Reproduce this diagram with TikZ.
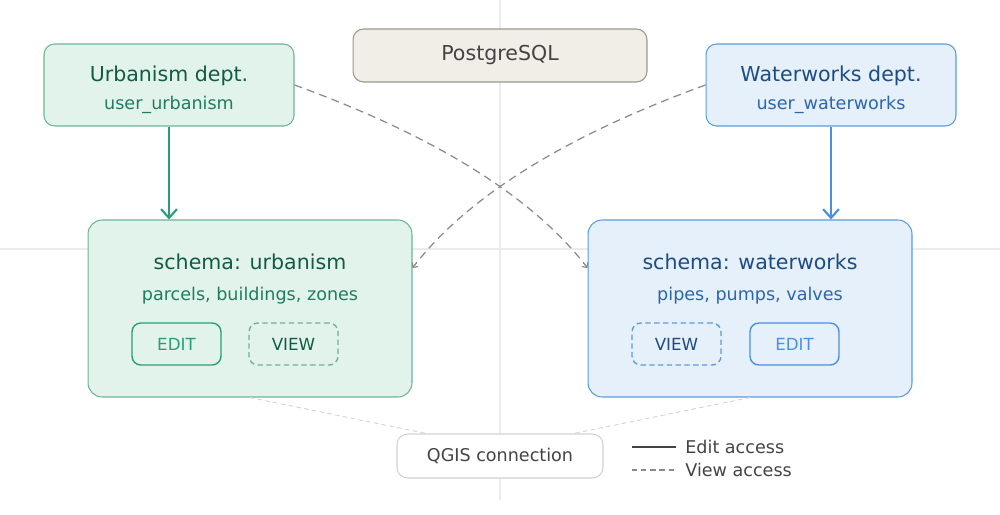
\documentclass[tikz,border=0pt]{standalone}
\usepackage{fontspec}
\setmainfont{DejaVu Sans}
\usetikzlibrary{arrows.meta}
\definecolor{urbFill}{HTML}{E2F3EC}
\definecolor{urbLine}{HTML}{6DB496}
\definecolor{urbDark}{HTML}{115C45}
\definecolor{urbMid}{HTML}{1E7D61}
\definecolor{urbAccent}{HTML}{2A9D78}
\definecolor{watFill}{HTML}{E5F0FB}
\definecolor{watLine}{HTML}{5B9BDE}
\definecolor{watDark}{HTML}{1C4C84}
\definecolor{watMid}{HTML}{2B66AD}
\definecolor{watAccent}{HTML}{4A90E2}
\definecolor{pgFill}{HTML}{F1EEE8}
\definecolor{pgLine}{HTML}{9C978F}
\definecolor{inkGray}{HTML}{444444}
\definecolor{viewGray}{HTML}{8A8A8A}
\definecolor{guideGray}{HTML}{EBEBEB}
\definecolor{qgisLine}{HTML}{D2D2D2}

\begin{document}
\begin{tikzpicture}[x=0.02cm,y=-0.02cm,>={Straight Barb[length=5pt,width=9pt]}]
\tikzstyle{deptbox}=[draw,rounded corners=6pt,minimum width=5cm,minimum height=1.64cm,line width=.6pt]
\tikzstyle{schemabox}=[draw,rounded corners=8pt,minimum width=6.48cm,minimum height=3.54cm,line width=.6pt]
\tikzstyle{btn}=[draw,rounded corners=5pt,minimum width=1.78cm,minimum height=.84cm,line width=.8pt,font=\fontsize{9.5}{11}\selectfont]
\tikzstyle{bigtxt}=[font=\fontsize{11.7}{14}\selectfont,inner sep=0pt]
\tikzstyle{smalltxt}=[font=\fontsize{10}{12}\selectfont,inner sep=0pt]
\tikzstyle{viewline}=[draw=viewGray,line width=.7pt,dash pattern=on 4.5pt off 3pt]
\tikzstyle{qgisline}=[draw=qgisLine,line width=.5pt,dash pattern=on 2.5pt off 2pt]
\useasboundingbox (0,0) rectangle (1000,514);
% guides
\draw[guideGray,line width=.6pt] (500,0) -- (500,500);
\draw[guideGray,line width=.6pt] (0,249) -- (1000,249);
% top row
\node[deptbox,draw=urbLine,fill=urbFill] (udept) at (169,85) {};
\node[bigtxt,text=urbDark] (udeptname) at (169,76) {Urbanism dept.};
\node[smalltxt,text=urbMid] (udeptuser) at (169,104.5) {user\_urbanism};
\node[draw=pgLine,fill=pgFill,rounded corners=6pt,minimum width=5.88cm,minimum height=1.06cm,line width=.6pt,bigtxt,text=inkGray] (pg) at (500,55.5) {PostgreSQL};
\node[deptbox,draw=watLine,fill=watFill] (wdept) at (831,85) {};
\node[bigtxt,text=watDark] (wdeptname) at (831,76) {Waterworks dept.};
\node[smalltxt,text=watMid] (wdeptuser) at (831,104.5) {user\_waterworks};
% schemas
\node[schemabox,draw=urbLine,fill=urbFill] (uschema) at (250,308.5) {};
\node[bigtxt,text=urbDark] (uschemaname) at (250,262) {schema: urbanism};
\node[smalltxt,text=urbMid] (uschemaitems) at (250,295.5) {parcels, buildings, zones};
\node[btn,draw=urbAccent,text=urbAccent] (uedit) at (176.5,344) {EDIT};
\node[btn,draw=urbLine,dash pattern=on 3pt off 2pt,text=urbDark] (uview) at (293.5,344) {VIEW};
\node[schemabox,draw=watLine,fill=watFill] (wschema) at (750,308.5) {};
\node[bigtxt,text=watDark] (wschemaname) at (750,262) {schema: waterworks};
\node[smalltxt,text=watMid] (wschemaitems) at (750,295.5) {pipes, pumps, valves};
\node[btn,draw=watLine,dash pattern=on 3pt off 2pt,text=watDark] (wview) at (676.5,344) {VIEW};
\node[btn,draw=watAccent,text=watAccent] (wedit) at (794.5,344) {EDIT};
% edit access
\draw[->,draw=urbAccent,line width=1.2pt] (udept.south) -- (udept.south |- uschema.north);
\draw[->,draw=watAccent,line width=1.2pt] (wdept.south) -- (wdept.south |- wschema.north);
% view access
\draw[viewline,-{Straight Barb[length=2pt,width=4pt]}] (udept.east) .. controls (435,136) and (533,197) .. (wschema.166);
\draw[viewline,-{Straight Barb[length=2pt,width=4pt]}] (wdept.west) .. controls (565,136) and (467,197) .. (uschema.14);
% qgis
\node[draw=qgisLine,fill=white,rounded corners=6pt,minimum width=4.12cm,minimum height=.88cm,line width=.6pt,smalltxt,text=inkGray] (qgis) at (500,456) {QGIS connection};
\draw[qgisline] (uschema.south) -- (qgis.163);
\draw[qgisline] (wschema.south) -- (qgis.17);
% legend
\coordinate (editA) at (632,447);
\coordinate (editB) at (676,447);
\coordinate (viewA) at (632,470);
\coordinate (viewB) at (676,470);
\draw[draw=inkGray,line width=1.3pt] (editA) -- (editB);
\draw[draw=viewGray,line width=.6pt,dash pattern=on 3pt off 2.2pt] (viewA) -- (viewB);
\node[smalltxt,text=inkGray,anchor=west] (editlbl) at (685,447) {Edit access};
\node[smalltxt,text=inkGray,anchor=west] (viewlbl) at (685,470) {View access};
\end{tikzpicture}
\end{document}
